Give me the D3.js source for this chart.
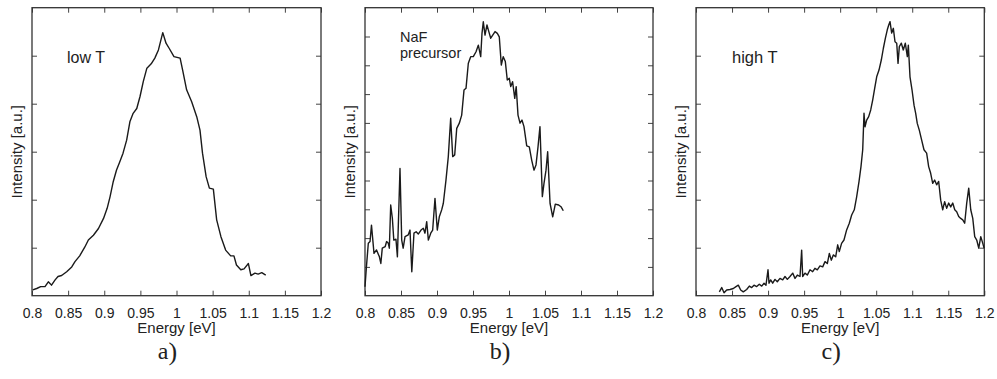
<!DOCTYPE html>
<html>
<head>
<meta charset="utf-8">
<script src="https://cdn.jsdelivr.net/npm/d3@7"></script>
<style>
body { margin: 0; background: #fff; }
svg { display: block; }
text { font-family: "Liberation Sans", Arial, sans-serif; fill: #222; }
</style>
</head>
<body>
<svg width="997" height="379"></svg>
<script>
// energy axis ticks (same on all three panels)
const energyTicks = [0.8, 0.85, 0.9, 0.95, 1, 1.05, 1.1, 1.15, 1.2]

// spectra: [energy eV, intensity a.u.]
const lowT = [
  [0.801,0.12],[0.8065,0.15],[0.812,0.19],[0.818,0.19],[0.8226,0.29],[0.827,0.22],[0.832,0.33],
  [0.836,0.40],[0.841,0.42],[0.848,0.50],[0.855,0.60],[0.8595,0.71],[0.866,0.83],[0.873,1.01],
  [0.878,1.16],[0.885,1.26],[0.892,1.40],[0.899,1.61],[0.904,1.82],[0.908,2.06],[0.9125,2.38],
  [0.917,2.62],[0.921,2.77],[0.926,2.97],[0.931,3.24],[0.9356,3.63],[0.940,3.80],[0.945,3.90],
  [0.9495,4.15],[0.954,4.46],[0.959,4.74],[0.965,4.83],[0.970,4.95],[0.975,5.12],[0.981,5.48],
  [0.9855,5.26],[0.990,5.15],[0.9965,4.98],[1.005,4.95],[1.0085,4.70],[1.014,4.29],[1.021,4.04],
  [1.028,3.73],[1.0325,3.45],[1.036,2.97],[1.041,2.48],[1.0455,2.24],[1.051,2.22],[1.0556,1.58],
  [1.0615,1.23],[1.068,0.95],[1.075,0.83],[1.0795,0.83],[1.083,0.64],[1.089,0.54],[1.0935,0.56],
  [1.0995,0.67],[1.103,0.42],[1.1086,0.47],[1.113,0.45],[1.118,0.48],[1.1235,0.43]
]

const nafPrecursor = [
  [0.800,0.31],[0.802,1.01],[0.8046,1.82],[0.807,1.88],[0.809,2.45],[0.8125,1.47],[0.816,1.59],
  [0.820,1.35],[0.822,1.12],[0.824,1.65],[0.828,1.70],[0.830,1.88],[0.8324,1.82],[0.8338,1.65],
  [0.8357,3.15],[0.838,2.69],[0.840,1.93],[0.843,1.96],[0.845,1.35],[0.8486,4.42],[0.851,1.93],
  [0.853,1.65],[0.8556,2.05],[0.860,2.11],[0.8625,2.28],[0.865,0.83],[0.868,2.17],[0.871,2.22],
  [0.874,2.14],[0.8778,2.28],[0.881,2.34],[0.8833,2.17],[0.8857,2.57],[0.888,1.93],[0.8913,2.17],
  [0.894,2.28],[0.8972,3.38],[0.9004,2.28],[0.9032,2.74],[0.9065,2.98],[0.9088,3.21],[0.9125,4.02],
  [0.9157,4.83],[0.919,6.16],[0.9218,4.83],[0.9246,4.89],[0.9274,5.81],[0.931,5.99],[0.9343,6.27],
  [0.9375,7.14],[0.9403,7.20],[0.9435,8.07],[0.9468,8.30],[0.9504,8.30],[0.9542,8.47],[0.9574,8.70],
  [0.9607,8.30],[0.9625,9.11],[0.9643,9.51],[0.9667,9.05],[0.9694,9.40],[0.9713,9.23],[0.9746,8.94],
  [0.9774,9.05],[0.9806,9.17],[0.9838,9.11],[0.9865,8.99],[0.9893,8.01],[0.992,8.30],[0.9949,8.13],
  [0.9976,7.49],[1.0004,7.55],[1.0024,7.26],[1.005,7.43],[1.008,6.85],[1.010,7.26],[1.0125,6.27],
  [1.0153,5.99],[1.018,6.10],[1.0208,5.87],[1.0246,5.20],[1.0282,5.17],[1.0315,4.71],[1.0347,4.36],
  [1.0375,4.54],[1.0403,5.17],[1.043,5.87],[1.0463,3.44],[1.0486,3.90],[1.0514,4.36],[1.0537,5.00],
  [1.057,3.21],[1.0607,2.74],[1.0643,3.18],[1.069,3.15],[1.0722,3.09],[1.0754,2.95]
]

const highT = [
  [0.8324,0.08],[0.8357,0.17],[0.8389,0.06],[0.8426,0.12],[0.8472,0.13],[0.8518,0.15],[0.8555,0.19],
  [0.8587,0.22],[0.862,0.12],[0.8656,0.08],[0.8703,0.13],[0.874,0.20],[0.8773,0.17],[0.8805,0.22],
  [0.8842,0.19],[0.8878,0.24],[0.8912,0.20],[0.8944,0.26],[0.8971,0.22],[0.8999,0.54],[0.9013,0.26],
  [0.9036,0.33],[0.9064,0.26],[0.9096,0.34],[0.9128,0.29],[0.9165,0.36],[0.9203,0.33],[0.9235,0.40],
  [0.9267,0.34],[0.9304,0.40],[0.9342,0.47],[0.9374,0.36],[0.9406,0.43],[0.9443,0.40],[0.9466,0.95],
  [0.948,0.40],[0.9512,0.47],[0.9544,0.43],[0.9582,0.54],[0.9619,0.50],[0.965,0.57],[0.9683,0.54],
  [0.972,0.62],[0.9758,0.60],[0.979,0.71],[0.9822,0.67],[0.985,0.88],[0.9877,0.74],[0.9905,0.85],
  [0.9938,0.81],[0.9966,1.06],[0.9988,0.92],[1.002,1.09],[1.0053,1.16],[1.009,1.37],[1.0127,1.51],
  [1.016,1.68],[1.0196,1.79],[1.0229,2.06],[1.0262,2.38],[1.0289,2.69],[1.0313,3.04],[1.0331,3.80],
  [1.0345,3.52],[1.0368,3.66],[1.0396,3.73],[1.0424,3.87],[1.0452,4.08],[1.0479,4.32],[1.0507,4.56],
  [1.0539,4.70],[1.0571,4.91],[1.0599,5.15],[1.0627,5.36],[1.0654,5.54],[1.0674,5.64],[1.0692,5.71],
  [1.0715,5.47],[1.0738,5.57],[1.0761,5.29],[1.0785,5.26],[1.0803,4.84],[1.0821,5.19],[1.0849,5.26],
  [1.0876,5.12],[1.0904,5.26],[1.0932,4.98],[1.0946,5.22],[1.0969,4.56],[1.0997,4.29],[1.1025,3.97],
  [1.1048,3.80],[1.107,3.59],[1.1098,3.45],[1.1131,3.24],[1.1163,3.04],[1.12,2.97],[1.1228,2.69],
  [1.1256,2.55],[1.1284,2.34],[1.1311,2.41],[1.1339,2.31],[1.1367,2.38],[1.1395,1.99],[1.1423,1.79],
  [1.145,1.96],[1.1478,1.82],[1.1506,1.93],[1.1534,1.85],[1.1562,1.93],[1.159,1.79],[1.1617,1.75],
  [1.1645,1.65],[1.1673,1.61],[1.1701,1.58],[1.1728,1.51],[1.1756,1.93],[1.1784,2.24],[1.1812,1.79],
  [1.184,1.61],[1.1867,1.23],[1.1895,1.16],[1.1923,0.99],[1.1951,1.23],[1.1979,1.09],[1.1997,0.99]
]

const panelLetters = ["a", "b", "c"]
const panelNotes = [["low T"], ["NaF", "precursor"], ["high T"]]
const yMax = [6, 10, 6]   // number of y tick intervals per panel
const xLabel = "Energy [eV]"
const yLabel = "Intensity [a.u.]"

//LAYOUT
const svg = d3.select('svg')
const yTop = 7.7, yBottom = 295.7
const lefts = [32, 365, 696]
const rights = [321, 653, 984.3]
const notePos = [
  {x: 67, y: 63, size: 16, lh: 0},
  {x: 400, y: 42, size: 14.5, lh: 15.5},
  {x: 732, y: 63, size: 16.5, lh: 0}
]
const series = [lowT, nafPrecursor, highT]

series.forEach((data, i) => {
  const x = d3.scaleLinear().domain([0.8, 1.2]).range([lefts[i], rights[i]])
  const y = d3.scaleLinear().domain([0, yMax[i]]).range([yBottom, yTop])
  const g = svg.append('g')
  const inner = d3.range(1, yMax[i])

  // inward ticks on all four sides
  const bx = g.append('g').attr('transform', `translate(0,${yBottom})`)
    .call(d3.axisBottom(x).tickValues(energyTicks).tickSize(-5).tickPadding(12)
      .tickFormat(d3.format('.2~f')))
  g.append('g').attr('transform', `translate(0,${yTop})`)
    .call(d3.axisTop(x).tickValues(energyTicks).tickSize(-5).tickFormat(''))
  g.append('g').attr('transform', `translate(${lefts[i]},0)`)
    .call(d3.axisLeft(y).tickValues(inner).tickSize(-5).tickFormat(''))
  g.append('g').attr('transform', `translate(${rights[i]},0)`)
    .call(d3.axisRight(y).tickValues(inner).tickSize(-5).tickFormat(''))
  g.selectAll('.domain').remove()
  g.selectAll('.tick line').attr('stroke', '#444').attr('stroke-width', 1)
  bx.selectAll('text').attr('font-size', 14).attr('fill', '#222')
    .attr('font-family', '"Liberation Sans", Arial, sans-serif')

  g.append('rect')
    .attr('x', lefts[i]).attr('y', yTop)
    .attr('width', rights[i] - lefts[i]).attr('height', yBottom - yTop)
    .attr('fill', 'none').attr('stroke', '#333').attr('stroke-width', 1.3)

  g.append('path').datum(data)
    .attr('fill', 'none').attr('stroke', '#1a1a1a').attr('stroke-width', 1.4)
    .attr('stroke-linejoin', 'round')
    .attr('d', d3.line().x(d => x(d[0])).y(d => y(d[1])))

  // axis titles
  const cx = (lefts[i] + rights[i]) / 2
  g.append('text').attr('x', cx).attr('y', 333).attr('text-anchor', 'middle')
    .attr('font-size', 15).text(xLabel)
  g.append('text').attr('transform', `translate(${lefts[i] - 10},${(yTop + yBottom) / 2}) rotate(-90)`)
    .attr('text-anchor', 'middle').attr('font-size', 15).text(yLabel)

  // panel note
  const np = notePos[i]
  panelNotes[i].forEach((t, k) => {
    g.append('text').attr('x', np.x).attr('y', np.y + k * np.lh)
      .attr('font-size', np.size).text(t)
  })

  // a) b) c)
  const lab = g.append('text').attr('x', cx - 9).attr('y', 359)
    .attr('text-anchor', 'middle')
    .style('font-family', '"Liberation Serif", "Times New Roman", serif')
    .attr('font-size', 24)
  lab.append('tspan').text(panelLetters[i])
  lab.append('tspan').attr('font-size', 26).attr('dy', 1).text(')')
})
</script>
</body>
</html>
